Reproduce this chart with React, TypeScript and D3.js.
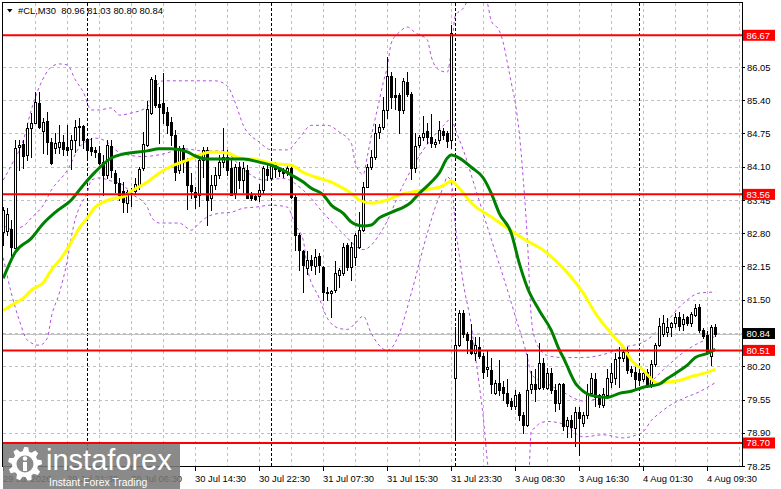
import React from 'react';
import * as d3 from 'd3';

const W = 781;
const H = 489;

// OHLC of #CL M30 bars (oldest -> newest)
const opens = [82.82,82.84,82.88,82.51,84.48,84.54,84.33,84.86,84.95,85.35,84.80,84.99,84.58,84.46,84.48,84.58,84.48,84.45,84.62,84.88,84.90,84.64,84.48,84.43,84.37,84.19,83.94,84.50,83.98,83.78,83.62,83.39,83.57,83.62,83.74,84.07,84.52,85.15,85.80,85.33,85.35,85.17,84.97,84.72,84.03,84.46,84.23,83.74,83.60,83.55,84.23,84.43,83.49,83.74,83.94,84.19,84.29,84.07,83.58,84.09,83.84,84.03,83.55,83.53,83.53,83.64,84.05,83.88,84.15,84.07,84.03,83.99,84.07,83.51,82.76,82.45,82.12,82.27,82.16,82.35,82.14,81.65,81.63,81.69,81.98,82.02,82.57,82.14,82.33,82.53,82.86,83.70,84.09,84.29,84.78,84.88,85.21,85.87,85.50,85.50,85.21,85.76,85.52,84.07,84.52,84.68,84.80,84.68,84.54,84.62,84.80,84.76,84.62,79.98,80.61,81.24,80.84,80.71,80.45,80.57,80.41,80.14,80.12,79.67,79.88,79.80,79.67,79.53,79.43,79.65,79.24,79.06,79.76,79.86,79.78,80.27,79.78,80.06,79.73,79.49,79.86,79.04,79.14,79.00,79.30,79.10,79.24,79.67,79.96,79.63,79.45,79.63,79.90,79.98,80.37,80.37,80.47,80.14,80.08,80.06,79.96,80.08,79.86,80.25,80.61,80.84,80.86,80.96,81.04,81.16,81.02,81.16,81.04,81.20,81.35,80.90,80.82,80.41,80.96];
const highs = [83.31,83.30,83.06,84.62,84.62,84.62,84.95,85.15,85.56,85.56,85.05,85.17,84.66,84.76,84.91,84.72,84.91,84.72,85.01,85.05,84.91,84.66,84.66,84.48,84.50,84.33,84.62,84.62,84.03,83.88,83.80,83.64,83.68,83.88,84.10,84.78,85.38,85.85,85.89,85.66,85.93,85.27,85.07,84.82,84.50,84.52,84.27,83.98,83.70,84.27,84.48,84.48,83.94,84.10,84.33,84.86,84.43,84.23,84.15,84.19,84.19,84.13,83.60,83.57,83.76,84.11,84.17,84.19,84.19,84.09,84.07,84.11,84.13,83.55,82.80,82.47,82.45,82.37,82.49,82.41,82.16,81.75,81.69,82.25,82.12,82.61,82.61,82.62,82.80,83.21,83.80,84.15,84.43,84.94,84.94,85.47,86.25,85.95,85.83,85.54,85.83,85.95,85.56,84.76,84.72,85.09,84.95,85.13,84.64,84.99,84.86,84.80,86.87,80.96,81.30,81.30,80.86,81.02,80.78,80.78,80.45,80.51,80.37,79.94,80.33,79.92,79.96,79.57,79.73,79.69,79.30,80.43,80.10,80.14,80.65,80.37,80.16,80.16,79.86,79.88,79.88,79.20,79.24,79.40,79.40,79.30,79.86,80.06,80.06,79.65,79.78,80.14,80.27,80.45,80.57,80.57,80.57,80.20,80.18,80.10,80.10,80.14,80.33,80.65,81.14,81.20,81.14,81.06,81.24,81.26,81.22,81.18,81.26,81.41,81.41,80.94,80.88,81.00,81.03];
const lows = [82.57,82.76,82.33,82.51,84.03,84.07,84.23,84.29,84.95,84.86,84.37,84.35,84.15,84.37,84.37,84.33,84.33,84.05,84.39,84.52,84.46,84.27,84.33,84.29,84.15,83.55,83.88,83.90,83.60,83.45,83.22,83.22,83.33,83.57,83.66,84.03,84.50,85.13,85.27,84.56,84.95,84.76,84.52,83.84,83.98,83.99,83.27,83.49,83.29,83.33,83.90,82.96,83.25,83.66,83.88,84.09,83.94,83.55,83.49,83.68,83.60,83.49,83.45,83.45,83.43,83.58,83.84,83.84,83.90,83.92,83.90,83.94,83.49,82.47,82.08,81.65,82.00,82.08,82.00,82.04,81.49,81.49,81.16,81.65,81.75,81.98,82.08,81.88,82.18,82.51,82.84,83.70,84.05,84.25,84.66,84.84,85.05,85.25,85.23,84.76,85.15,85.48,83.86,83.99,84.48,84.62,84.56,84.48,84.48,84.56,84.64,84.48,84.46,78.81,80.59,80.78,80.45,80.43,80.33,80.37,79.98,80.00,79.67,79.65,79.63,79.55,79.43,79.37,79.37,79.14,78.89,79.04,79.67,79.53,79.76,79.76,79.76,79.67,79.32,79.37,78.95,78.81,78.81,78.65,78.46,79.04,79.18,79.63,79.43,79.41,79.40,79.57,79.80,79.86,79.80,80.31,80.06,80.00,79.73,79.88,79.92,79.80,79.80,80.20,80.59,80.80,80.80,80.80,80.96,80.90,80.90,81.00,80.98,81.18,80.86,80.76,80.43,80.22,80.80];
const closes = [83.25,83.17,82.53,84.46,84.52,84.31,84.86,84.95,85.37,84.88,84.97,84.58,84.17,84.56,84.58,84.45,84.43,84.62,84.88,84.90,84.62,84.43,84.41,84.39,84.17,83.94,84.52,84.03,83.78,83.55,83.41,83.60,83.59,83.76,84.05,84.54,85.23,85.81,85.31,85.27,85.15,84.91,84.72,83.99,84.46,84.19,83.74,83.62,83.51,84.23,84.43,83.45,83.74,83.94,84.19,84.29,84.03,83.55,84.09,83.84,84.07,83.49,83.49,83.47,83.64,84.07,83.94,84.13,84.05,84.01,83.98,84.07,83.51,82.76,82.47,82.18,82.27,82.18,82.33,82.18,81.65,81.63,81.67,82.02,82.08,82.53,82.14,82.53,82.76,82.86,83.70,84.09,84.29,84.76,84.88,85.21,85.87,85.46,85.46,85.21,85.78,85.52,84.07,84.50,84.68,84.76,84.68,84.56,84.58,84.82,84.72,84.60,86.71,80.61,81.24,80.84,80.71,80.45,80.61,80.41,80.08,80.18,79.86,79.88,79.73,79.67,79.49,79.43,79.63,79.24,79.06,79.73,79.86,79.76,80.27,79.80,80.06,79.73,79.49,79.86,79.04,79.14,79.02,79.30,79.18,79.24,79.67,79.98,79.59,79.47,79.65,79.98,80.06,80.35,80.39,80.47,80.12,80.08,79.96,79.94,80.06,79.86,80.25,80.61,80.98,81.04,80.96,81.04,81.16,80.98,81.12,81.04,81.22,81.33,80.90,80.80,80.47,80.96,80.84];

// Indicator readings: [bar index, price]
const maGreen: [number, number][] = [[0,81.92],[3,82.43],[7,82.70],[10,82.99],[13,83.21],[17,83.45],[20,83.74],[23,84.00],[27,84.27],[30,84.35],[36,84.41],[39,84.45],[42,84.45],[46,84.39],[48,84.31],[51,84.25],[57,84.25],[60,84.25],[64,84.19],[67,84.13],[70,84.03],[72,83.94],[75,83.80],[77,83.68],[80,83.55],[82,83.35],[85,83.19],[87,83.02],[90,82.94],[92,82.96],[94,83.10],[97,83.21],[102,83.41],[104,83.58],[107,83.80],[109,83.98],[111,84.27],[112,84.33],[114,84.27],[117,84.09],[120,83.88],[122,83.58],[124,83.19],[127,82.80],[129,82.21],[131,81.74],[134,81.29],[137,80.90],[139,80.52],[140,80.37],[141,80.20],[142,80.02],[143,79.87],[144,79.78],[147,79.63],[151,79.59],[154,79.67],[157,79.71],[160,79.79],[164,79.85],[166,79.96],[168,80.06],[171,80.22],[173,80.37],[176,80.45],[178,80.53]];
const maYellow: [number, number][] = [[0,81.29],[2,81.39],[5,81.53],[7,81.69],[10,81.84],[12,82.08],[15,82.37],[17,82.63],[19,82.90],[21,83.10],[23,83.31],[25,83.41],[27,83.47],[30,83.51],[32,83.62],[36,83.80],[39,83.98],[42,84.11],[46,84.23],[49,84.33],[52,84.39],[56,84.37],[59,84.27],[64,84.23],[67,84.17],[72,84.13],[75,83.99],[78,83.90],[82,83.80],[84,83.72],[87,83.58],[89,83.45],[92,83.39],[96,83.45],[99,83.55],[102,83.60],[106,83.66],[109,83.70],[111,83.78],[112,83.82],[114,83.68],[117,83.39],[122,83.12],[126,82.90],[131,82.65],[135,82.47],[138,82.27],[142,81.94],[145,81.63],[148,81.24],[152,80.84],[155,80.57],[157,80.32],[160,80.12],[163,79.89],[164,79.87],[166,79.89],[169,79.92],[172,80.00],[176,80.08],[178,80.14]];
const bbMiddle: [number, number][] = [[0,82.96],[2,82.88],[5,82.94],[7,83.10],[10,83.35],[12,83.64],[16,84.03],[19,84.48],[22,84.64],[23,84.66],[26,84.58],[28,84.43],[30,84.35],[35,84.30],[40,84.35],[45,84.45],[50,84.41],[55,84.41],[60,84.05],[65,83.84],[70,83.87],[75,83.64],[80,83.20],[85,82.79],[90,82.48],[95,82.90],[100,83.75],[105,84.43],[110,84.90],[112,85.04],[113,84.83],[115,84.43],[118,83.68],[122,82.68],[125,81.95],[128,81.18],[131,80.38],[132,80.04],[136,79.86],[140,79.69],[145,79.52],[150,79.59],[155,79.68],[160,79.78],[165,80.13],[170,80.47],[174,80.66],[178,80.78]];
const bbUpper: [number, number][] = [[0,83.84],[2,84.13],[5,84.62],[7,85.21],[9,85.66],[12,86.05],[14,86.11],[16,86.09],[18,85.80],[20,85.56],[22,85.21],[24,85.21],[27,85.25],[29,85.11],[32,85.15],[36,85.27],[38,85.64],[40,85.78],[53,85.78],[56,85.68],[58,85.35],[60,84.91],[64,84.58],[67,84.43],[71,84.43],[74,84.66],[77,84.91],[81,84.91],[84,84.78],[87,84.56],[88,84.17],[90,83.95],[91,84.30],[92,84.70],[93,85.05],[94,85.40],[95,85.75],[96,86.05],[97,86.52],[99,86.73],[101,86.83],[103,86.72],[106,86.58],[107,86.25],[109,85.99],[111,85.95],[112,86.38],[113,87.05],[115,87.20],[118,87.60],[121,87.30],[122,86.95],[124,86.76],[125,86.52],[126,86.14],[127,85.74],[128,85.35],[129,84.75],[130,83.85],[131,82.70],[132,81.15],[133,80.71],[134,80.55],[136,80.41],[140,80.37],[145,80.37],[150,80.43],[155,80.57],[160,80.67],[165,81.00],[170,81.43],[174,81.63],[178,81.65]];
const bbLower: [number, number][] = [[0,82.32],[2,81.63],[4,81.10],[6,80.71],[9,80.61],[11,80.75],[12,81.16],[14,81.63],[16,82.27],[17,82.72],[18,83.08],[19,83.30],[21,83.60],[22,83.84],[24,83.88],[27,83.82],[30,83.74],[32,83.58],[36,83.31],[37,83.12],[39,83.00],[44,83.00],[46,82.90],[47,82.86],[49,83.00],[51,83.12],[54,83.19],[57,83.21],[60,83.29],[63,83.31],[67,83.35],[71,83.31],[73,82.96],[75,82.66],[76,82.12],[79,81.53],[81,81.14],[84,80.94],[86,80.92],[88,81.04],[90,81.18],[92,80.84],[96,80.51],[97,80.55],[99,80.84],[102,81.63],[106,82.80],[108,83.31],[110,83.70],[111,83.90],[112,83.80],[113,82.96],[114,82.37],[115,81.82],[117,81.00],[118,80.41],[119,79.83],[120,79.20],[121,78.36],[122,77.80],[125,77.30],[128,77.10],[131,77.34],[132,78.94],[133,79.00],[134,79.08],[136,79.12],[140,79.07],[145,78.82],[150,78.86],[155,78.80],[158,78.85],[160,78.92],[162,79.14],[164,79.28],[166,79.40],[170,79.57],[174,79.70],[178,79.88]];

const priceTicks = [86.05, 85.40, 84.75, 84.10, 83.45, 82.80, 82.15, 81.50, 80.85, 80.20, 79.55, 78.90, 78.25];
const timeLabels = ['29 Jul 2026', '29 Jul 21:30', '30 Jul 06:30', '30 Jul 14:30', '30 Jul 22:30', '31 Jul 07:30', '31 Jul 15:30', '31 Jul 23:30', '3 Aug 08:30', '3 Aug 16:30', '4 Aug 01:30', '4 Aug 09:30'];
const daySeparatorBars = [21, 67, 113, 159];
const levelLines = [86.67, 83.56, 80.51, 78.70];
const lastPrice = 80.84;
const legendText = '#CL,M30  80.96 81.03 80.80 80.84';

const FONT = '"Liberation Sans", Arial, sans-serif';

function gearPath(cx: number, cy: number, rOut: number, rIn: number, teeth: number) {
  const p = d3.path();
  const step = (Math.PI * 2) / teeth;
  for (let k = 0; k < teeth; k++) {
    const a0 = k * step - step * 0.5;
    const pts: [number, number][] = [
      [rIn, a0],
      [rOut, a0 + step * 0.18],
      [rOut, a0 + step * 0.52],
      [rIn, a0 + step * 0.7],
    ];
    pts.forEach(([r, a], j) => {
      const px = cx + r * Math.cos(a);
      const py = cy + r * Math.sin(a);
      if (k === 0 && j === 0) p.moveTo(px, py);
      else p.lineTo(px, py);
    });
  }
  p.closePath();
  return p.toString();
}

export default function App() {
  const x = d3.scaleLinear().domain([0, 178]).range([3.3, 715.3]);
  const y = d3.scaleLinear().domain([78.25, 86.05]).range([466, 67]);
  const left = 2.5, top = 2.5, right = 742.5, bottom = 466.5;

  const line = d3
    .line<[number, number]>()
    .x((d) => x(d[0]))
    .y((d) => y(d[1]))
    .curve(d3.curveMonotoneX);

  const gridBars = d3.range(8, 185, 8);

  return (
    <div style={{ position: 'absolute', left: 0, top: 0 }}>
      <svg width={W} height={H} style={{ display: 'block', background: '#fff' }}>
        <defs>
          <clipPath id="plot">
            <rect x={3} y={3} width={739} height={463} />
          </clipPath>
        </defs>
        <rect x={0} y={0} width={W} height={H} fill="#fff" />

        {/* grid */}
        <g stroke="#c0c0c0" strokeWidth={1} strokeDasharray="3,3" shapeRendering="crispEdges">
          {priceTicks.map((p) => (
            <line key={'h' + p} x1={3} x2={742} y1={Math.round(y(p)) + 0.5} y2={Math.round(y(p)) + 0.5} />
          ))}
          {gridBars.map((b) => (
            <line key={'v' + b} x1={Math.floor(x(b)) + 0.5} x2={Math.floor(x(b)) + 0.5} y1={3} y2={466} />
          ))}
        </g>
        {/* day separators */}
        <g stroke="#000" strokeWidth={1} strokeDasharray="3,2" shapeRendering="crispEdges">
          {daySeparatorBars.map((b) => (
            <line key={'d' + b} x1={Math.floor(x(b)) + 0.5} x2={Math.floor(x(b)) + 0.5} y1={3} y2={466} />
          ))}
        </g>

        <g clipPath="url(#plot)">
          {/* current price line */}
          <line x1={3} x2={742} y1={Math.round(y(lastPrice)) + 0.5} y2={Math.round(y(lastPrice)) + 0.5} stroke="#c0c0c0" strokeWidth={1} shapeRendering="crispEdges" />
          {/* Bollinger bands */}
          <g fill="none" stroke="#b050dc" strokeWidth={1} strokeDasharray="3,3">
            <path d={line(bbUpper) || ''} />
            <path d={line(bbMiddle) || ''} />
            <path d={line(bbLower) || ''} />
          </g>
          {/* candles */}
          <g shapeRendering="crispEdges">
            {closes.map((c, i) => {
              const o = opens[i];
              const cx = Math.floor(x(i)) + 0.5;
              const yt = Math.round(y(Math.max(o, c)));
              const yb = Math.round(y(Math.min(o, c)));
              const bull = c >= o;
              return (
                <g key={i}>
                  <line x1={cx} x2={cx} y1={Math.round(y(highs[i]))} y2={Math.round(y(lows[i])) + 1} stroke="#000" strokeWidth={1} />
                  {yb - yt >= 1 ? (
                    <rect x={cx - 1} y={yt + 0.5} width={2} height={yb - yt} fill={bull ? '#fff' : '#000'} stroke="#000" strokeWidth={1} />
                  ) : (
                    <line x1={cx - 1.5} x2={cx + 1.5} y1={yt + 0.5} y2={yt + 0.5} stroke="#000" strokeWidth={1} />
                  )}
                </g>
              );
            })}
          </g>
          {/* moving averages */}
          <path d={line(maYellow) || ''} fill="none" stroke="#ffff00" strokeWidth={3} strokeLinejoin="round" />
          <path d={line(maGreen) || ''} fill="none" stroke="#008000" strokeWidth={3} strokeLinejoin="round" />
          {/* level lines */}
          {levelLines.map((p) => (
            <line key={'l' + p} x1={3} x2={742} y1={y(p)} y2={y(p)} stroke="#ff0000" strokeWidth={2} />
          ))}
        </g>

        {/* frame */}
        <rect x={left} y={top} width={right - left} height={bottom - top} fill="none" stroke="#000" strokeWidth={1} shapeRendering="crispEdges" />

        {/* right price axis */}
        <g fontFamily={FONT} fontSize={9.4} fill="#000">
          {priceTicks.map((p) => (
            <g key={'t' + p}>
              <line x1={742} x2={745} y1={Math.round(y(p)) + 0.5} y2={Math.round(y(p)) + 0.5} stroke="#000" shapeRendering="crispEdges" />
              <text x={747} y={y(p) + 3.5}>{p.toFixed(2)}</text>
            </g>
          ))}
        </g>
        {/* level labels */}
        <g fontFamily={FONT} fontSize={9.4}>
          {levelLines.map((p) => (
            <g key={'lb' + p}>
              <rect x={743} y={y(p) - 5.5} width={32} height={11} fill="#ff0000" />
              <text x={746.5} y={y(p) + 3.5} fill="#fff">{p.toFixed(2)}</text>
            </g>
          ))}
          <rect x={743} y={y(lastPrice) - 5.5} width={32} height={11} fill="#000" />
          <text x={746.5} y={y(lastPrice) + 3.5} fill="#fff">{lastPrice.toFixed(2)}</text>
        </g>

        {/* bottom time axis */}
        <g fontFamily={FONT} fontSize={9.4} fill="#000">
          {timeLabels.map((t, k) => {
            const bx = Math.floor(x(k * 16)) + 0.5;
            return (
              <g key={'x' + k}>
                <line x1={bx} x2={bx} y1={466} y2={471} stroke="#000" shapeRendering="crispEdges" />
                <text x={bx - 0.5} y={481.5}>{t}</text>
              </g>
            );
          })}
        </g>

        {/* legend */}
        <path d="M7,9 L12.5,9 L9.75,12.5 Z" fill="#000" />
        <text x={18} y={14} fontFamily={FONT} fontSize={9.4} fill="#000" style={{ whiteSpace: 'pre' }}>{legendText}</text>

        {/* watermark */}
        <g>
          <rect x={3} y={444} width={177} height={45} fill="#7a7a7a" opacity={0.88} />
          <path d={gearPath(25, 464, 17, 13, 9)} fill="#fff" />
          <circle cx={25} cy={464} r={8.5} fill="#8a8a8a" />
          <circle cx={25} cy={458.5} r={2.2} fill="#fff" />
          <rect x={23} y={462} width={4} height={9} fill="#fff" />
          <text x={46} y={470} fontFamily={FONT} fontSize={29} fill="#fff">instaforex</text>
          <text x={49} y={486} fontFamily={FONT} fontSize={10.4} fill="#fff">Instant Forex Trading</text>
        </g>
      </svg>
    </div>
  );
}
